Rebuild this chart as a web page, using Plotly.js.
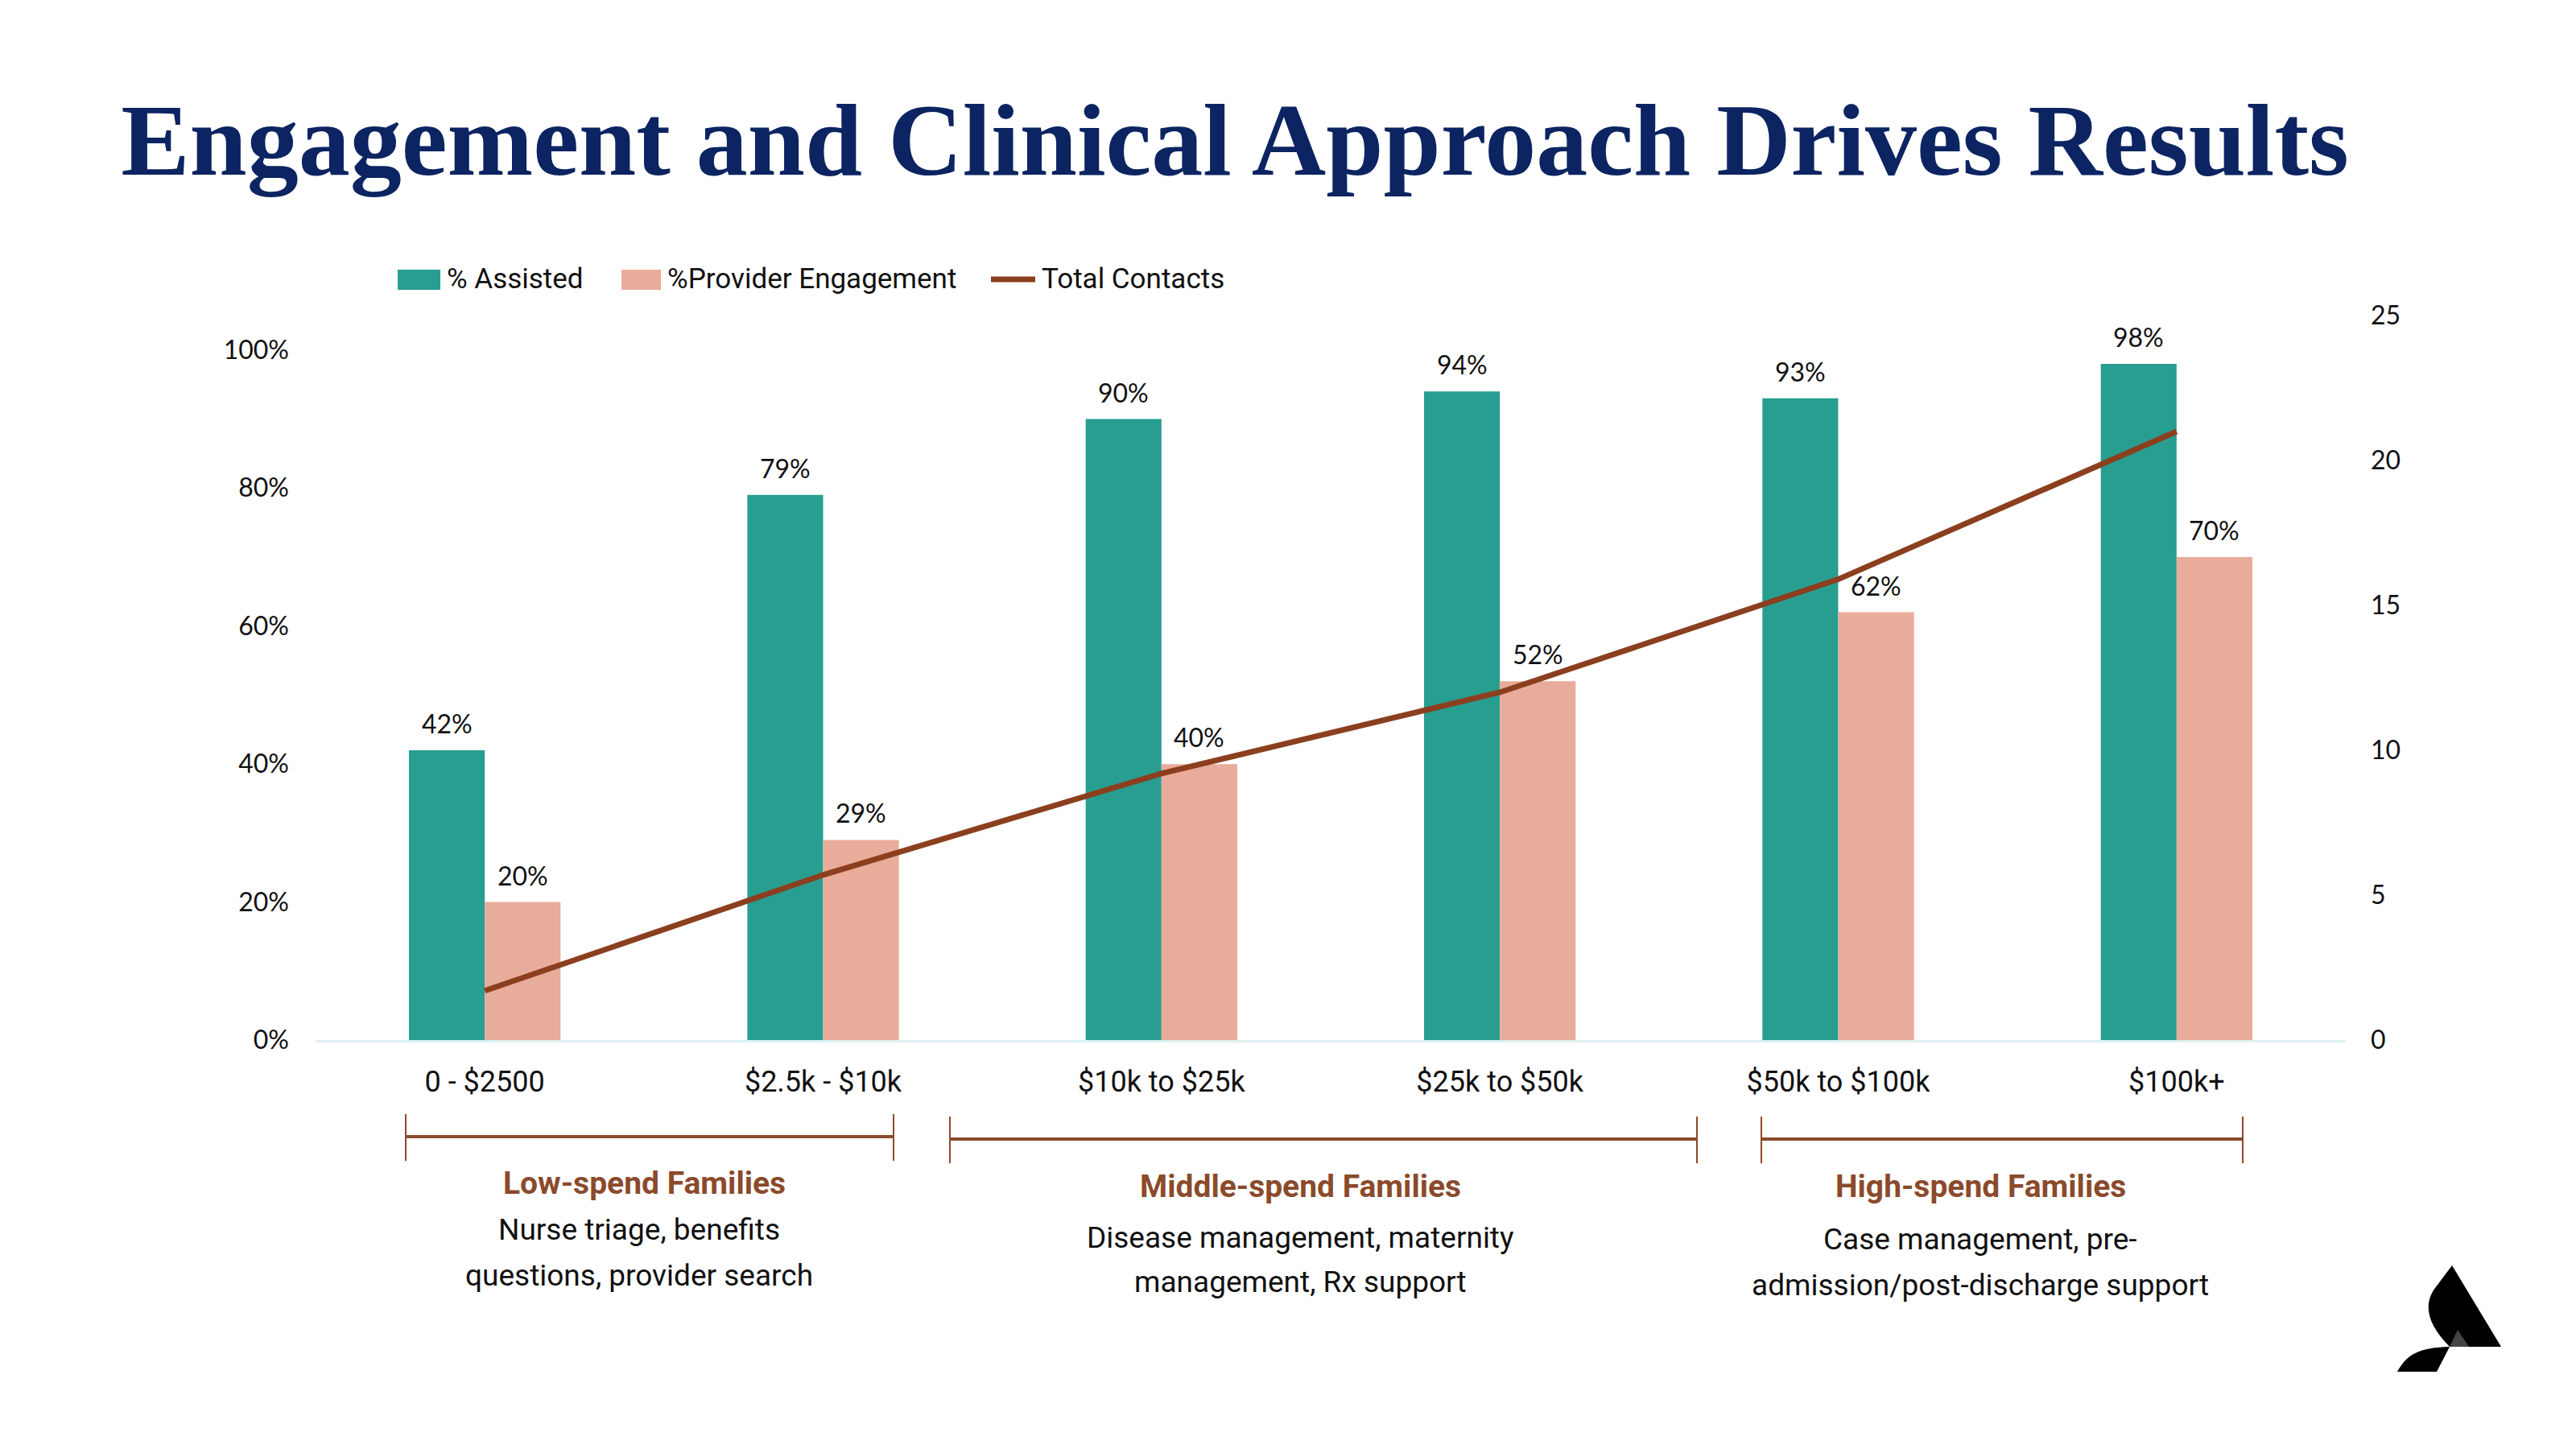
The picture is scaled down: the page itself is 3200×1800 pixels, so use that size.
<!DOCTYPE html>
<html>
<head>
<meta charset="utf-8">
<script src="https://cdn.plot.ly/plotly-3.0.1.min.js"></script>
<style>html,body{margin:0;padding:0;background:#fff;}#chart{width:3200px;height:1800px;}</style>
</head>
<body>
<div id="chart"></div>
<script>
const categories = ['0 - $2500', '$2.5k - $10k', '$10k to $25k', '$25k to $50k', '$50k to $100k', '$100k+'];
const assisted = [0.42, 0.79, 0.90, 0.94, 0.93, 0.98];
const providerEngagement = [0.20, 0.29, 0.40, 0.52, 0.62, 0.70];
const totalContacts = [1.7, 5.7, 9.2, 12.0, 15.9, 21.0];
const seriesNames = ['% Assisted', '%Provider Engagement', 'Total Contacts'];
const groupTitles = ['Low-spend Families', 'Middle-spend Families', 'High-spend Families'];
const groupLines = [
  ['Nurse triage, benefits', 'questions, provider search'],
  ['Disease management, maternity', 'management, Rx support'],
  ['Case management, pre-', 'admission/post-discharge support']
];

const W = 3200, H = 1800;
const L = 392, R = 2914, T = 392, B = 1292;
const px = x => (x - L) / (R - L);
const py = y => (B - y) / (B - T);

const TEAL = '#289e91', PINK = '#e8ac9b', BROWN = '#8b3f1e', GBROWN = '#8b4a2b', NAVY = '#0c2461';
const NARROW = '"Liberation Sans Narrow", "Roboto", sans-serif';
const GEO = 'Lato, "Open Sans", sans-serif';

const traces = [
  {type: 'bar', name: seriesNames[0], x: categories, y: assisted, marker: {color: TEAL}, hoverinfo: 'skip'},
  {type: 'bar', name: seriesNames[1], x: categories, y: providerEngagement, marker: {color: PINK}, hoverinfo: 'skip'},
  {type: 'scatter', mode: 'lines', name: seriesNames[2], x: categories, y: totalContacts, yaxis: 'y2',
   line: {color: BROWN, width: 7}, hoverinfo: 'skip'}
];

const annotations = [];
const barHalf = 47;
assisted.forEach((v, i) => annotations.push({x: categories[i], y: v, xref: 'x', yref: 'y', xshift: -barHalf, yshift: 12,
  yanchor: 'bottom', showarrow: false, text: Math.round(v * 100) + '%', font: {family: GEO, size: 32, color: '#111'}}));
providerEngagement.forEach((v, i) => annotations.push({x: categories[i], y: v, xref: 'x', yref: 'y', xshift: barHalf, yshift: 12,
  yanchor: 'bottom', showarrow: false, text: Math.round(v * 100) + '%', font: {family: GEO, size: 32, color: '#111'}}));

// custom legend
const legendX = [553, 827, 1292];
seriesNames.forEach((n, i) => annotations.push({xref: 'paper', yref: 'paper', x: px(legendX[i]), y: py(347), xanchor: 'left', yanchor: 'middle',
  showarrow: false, text: n, font: {family: NARROW, size: 35, color: '#111'}}));

// group annotations
const groupCenters = [800, 1615, 2460];
const titleY = [1470, 1474, 1474];
const lineY = [[1527, 1584], [1537, 1592], [1539, 1596]];
groupTitles.forEach((t, i) => {
  annotations.push({xref: 'paper', yref: 'paper', x: px(groupCenters[i]), y: py(titleY[i]), xanchor: 'center', yanchor: 'middle',
    showarrow: false, text: '<b>' + t + '</b>', font: {family: NARROW, size: 39, color: GBROWN}});
  groupLines[i].forEach((ln, j) => annotations.push({xref: 'paper', yref: 'paper', x: px(groupCenters[i] - (i === 0 ? 6 : 0)), y: py(lineY[i][j]),
    xanchor: 'center', yanchor: 'middle', showarrow: false, text: ln, font: {family: NARROW, size: 37, color: '#111'}}));
});

const shapes = [];
// legend marks
shapes.push({type: 'rect', xref: 'paper', yref: 'paper', x0: px(494), x1: px(547), y0: py(335), y1: py(360), fillcolor: TEAL, line: {width: 0}});
shapes.push({type: 'rect', xref: 'paper', yref: 'paper', x0: px(772), x1: px(821), y0: py(335), y1: py(360), fillcolor: PINK, line: {width: 0}});
shapes.push({type: 'line', xref: 'paper', yref: 'paper', x0: px(1231), x1: px(1286), y0: py(347), y1: py(347), line: {color: BROWN, width: 7}});
// brackets
const brackets = [[504, 1110, 1412], [1180, 2108, 1415], [2188, 2786, 1415]];
brackets.forEach(b => {
  shapes.push({type: 'line', xref: 'paper', yref: 'paper', x0: px(b[0]), x1: px(b[1]), y0: py(b[2]), y1: py(b[2]), line: {color: GBROWN, width: 4}});
  shapes.push({type: 'line', xref: 'paper', yref: 'paper', x0: px(b[0]), x1: px(b[0]), y0: py(b[2] - 28), y1: py(b[2] + 30), line: {color: GBROWN, width: 2}});
  shapes.push({type: 'line', xref: 'paper', yref: 'paper', x0: px(b[1]), x1: px(b[1]), y0: py(b[2] - 28), y1: py(b[2] + 30), line: {color: GBROWN, width: 2}});
});
// logo
const P = (x, y) => px(x) + ',' + py(y);
shapes.push({type: 'path', xref: 'paper', yref: 'paper', fillcolor: '#000', line: {width: 0},
  path: 'M' + P(3046, 1572) + ' L' + P(3107, 1673) + ' L' + P(3043, 1673) + ' C' + P(3015, 1645) + ' ' + P(3010, 1620) + ' ' + P(3025, 1600) + ' Z'});
shapes.push({type: 'path', xref: 'paper', yref: 'paper', fillcolor: '#000', line: {width: 0},
  path: 'M' + P(3043, 1673) + ' L' + P(3027, 1704) + ' L' + P(2978, 1704) + ' C' + P(2990, 1682) + ' ' + P(3005, 1674) + ' ' + P(3043, 1673) + ' Z'});
shapes.push({type: 'path', xref: 'paper', yref: 'paper', fillcolor: '#444', line: {width: 0},
  path: 'M' + P(3053, 1652) + ' L' + P(3067, 1673) + ' L' + P(3043, 1673) + ' Z'});

const layout = {
  width: W, height: H,
  paper_bgcolor: '#fff', plot_bgcolor: '#fff',
  margin: {l: L, r: W - R, t: T, b: H - B, pad: 0},
  showlegend: false,
  barmode: 'group', bargap: 0.552, bargroupgap: 0,
  title: {text: '<b>Engagement and Clinical Approach Drives Results</b>', xref: 'container', yref: 'container',
    x: 1534 / W, y: 1 - 172 / H, xanchor: 'center', yanchor: 'middle',
    font: {family: '"Liberation Serif", "DejaVu Serif", serif', size: 128, color: NAVY}},
  xaxis: {type: 'category', showgrid: false, zeroline: false, showline: true, linecolor: '#dcf1f1', linewidth: 3,
    ticks: '', ticklabelstandoff: 18, tickfont: {family: NARROW, size: 36, color: '#111'}, fixedrange: true},
  yaxis: {range: [0, 1.05], tickvals: [0, 0.2, 0.4, 0.6, 0.8, 1.0], tickformat: '.0%', showgrid: false, zeroline: false,
    showline: false, ticks: '', ticklabelstandoff: 32, tickfont: {family: GEO, size: 32, color: '#111'}, fixedrange: true},
  yaxis2: {range: [0, 25], tickvals: [0, 5, 10, 15, 20, 25], overlaying: 'y', side: 'right', showgrid: false, zeroline: false,
    showline: false, ticks: '', ticklabelstandoff: 30, tickfont: {family: GEO, size: 32, color: '#111'}, fixedrange: true},
  annotations: annotations,
  shapes: shapes
};

Plotly.newPlot('chart', traces, layout, {displayModeBar: false, staticPlot: true});
</script>
</body>
</html>
